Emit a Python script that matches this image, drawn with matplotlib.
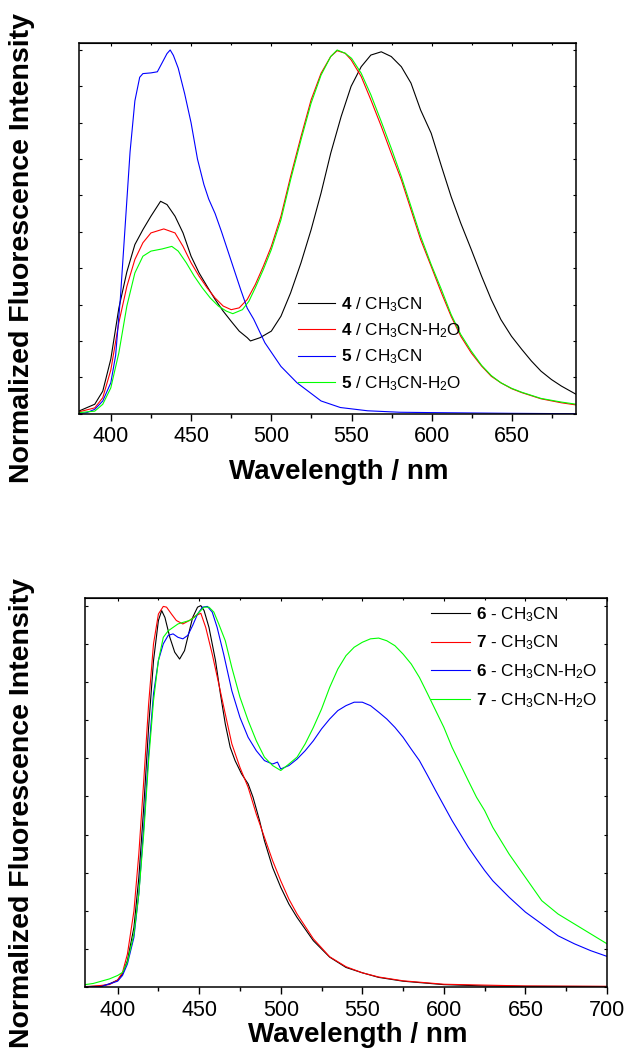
import numpy as np
import matplotlib
matplotlib.use("Agg")
import matplotlib.pyplot as plt
from matplotlib.ticker import MultipleLocator

plt.rcParams['font.family'] = ['Liberation Sans', 'DejaVu Sans']
plt.rcParams['mathtext.fontset'] = 'custom'
plt.rcParams['mathtext.rm'] = 'Liberation Sans'
plt.rcParams['mathtext.bf'] = 'Liberation Sans:bold'
plt.rcParams['mathtext.it'] = 'Liberation Sans:italic'

# ---- top panel: compounds 4 and 5 ----
wl_4a = [380, 390, 395, 400, 405, 410, 415, 420, 425, 431, 435, 440, 445, 450, 455, 460, 465, 470,
         475, 480, 485, 487, 493, 500, 506, 512, 518.5, 524.8, 531, 537, 543.5, 549.7, 556, 562,
         568.5, 574.7, 581, 587, 593, 599.6, 606, 612, 618, 624.6, 631, 637, 643, 649.6, 656,
         662, 668, 674.5, 680.7, 690]
in_4a = [0.007, 0.026, 0.062, 0.15, 0.29, 0.39, 0.465, 0.506, 0.543, 0.584, 0.575, 0.543, 0.497,
         0.433, 0.387, 0.35, 0.314, 0.282, 0.254, 0.227, 0.209, 0.2, 0.209, 0.227, 0.268, 0.332,
         0.415, 0.506, 0.607, 0.716, 0.817, 0.9, 0.954, 0.986, 0.995, 0.982, 0.954, 0.909,
         0.835, 0.771, 0.68, 0.597, 0.524, 0.451, 0.378, 0.314, 0.259, 0.213, 0.177, 0.145,
         0.117, 0.094, 0.076, 0.053]

wl_4b = [380, 390, 395, 400, 405, 410, 415, 420, 425, 433, 440, 445, 450, 455, 460, 465, 470, 475,
         480, 485, 490, 495, 500, 506, 512, 518.5, 524.8, 531, 537, 541, 546, 549.7, 556, 562,
         568.5, 574.7, 581, 587, 593, 599.6, 606, 612, 618, 624.6, 631, 637, 643, 649.6, 656,
         668, 680.7, 690]
in_4b = [0.005, 0.016, 0.044, 0.12, 0.25, 0.35, 0.424, 0.47, 0.497, 0.508, 0.497, 0.46, 0.415,
         0.378, 0.346, 0.318, 0.296, 0.286, 0.291, 0.314, 0.355, 0.405, 0.46, 0.543, 0.652,
         0.762, 0.863, 0.936, 0.982, 0.998, 0.991, 0.973, 0.927, 0.863, 0.79, 0.716, 0.643,
         0.561, 0.479, 0.405, 0.332, 0.268, 0.213, 0.167, 0.131, 0.103, 0.085, 0.069, 0.058,
         0.041, 0.03, 0.024]

wl_5a = [380, 385, 390, 395, 400, 403, 406, 409, 412, 415, 418, 420, 425, 429, 432, 435, 437, 439,
         442, 446, 450, 454, 458, 461, 465, 469, 475, 481, 485, 489, 496, 506, 516, 531, 543,
         560, 580, 600, 650, 690]
in_5a = [0.0, 0.003, 0.012, 0.035, 0.085, 0.16, 0.32, 0.52, 0.72, 0.86, 0.925, 0.935, 0.937, 0.94,
         0.965, 0.99, 1.0, 0.985, 0.95, 0.88, 0.8, 0.7, 0.63, 0.59, 0.55, 0.5, 0.42, 0.34, 0.29,
         0.26, 0.195, 0.13, 0.085, 0.035, 0.017, 0.008, 0.004, 0.003, 0.001, 0.0]

wl_5b = [380, 390, 395, 400, 405, 410, 415, 420, 425, 432, 438, 442, 447, 452, 457, 462, 467, 472,
         476, 482, 486, 490, 495, 500, 506, 512, 518.5, 524.8, 531, 537, 541, 546, 550, 556, 562,
         568.5, 574.7, 581, 587, 593, 599.6, 606, 612, 618, 624.6, 631, 637, 643, 649.6, 656,
         668, 680.7, 690]
in_5b = [0.003, 0.007, 0.026, 0.071, 0.167, 0.296, 0.387, 0.433, 0.447, 0.453, 0.46, 0.447, 0.415,
         0.378, 0.346, 0.318, 0.296, 0.282, 0.275, 0.286, 0.309, 0.346, 0.396, 0.451, 0.533,
         0.643, 0.753, 0.854, 0.931, 0.982, 1.0, 0.991, 0.977, 0.936, 0.877, 0.803, 0.73,
         0.652, 0.57, 0.488, 0.41, 0.341, 0.273, 0.218, 0.172, 0.133, 0.105, 0.085, 0.07,
         0.059, 0.042, 0.032, 0.026]

# ---- bottom panel: compounds 6 and 7 ----
wl_6a = [380, 390, 395, 400, 403, 406, 410, 413, 416, 419, 422, 425, 427, 429, 432, 435, 438, 441,
         443, 446, 449, 451, 453, 456, 460, 463, 466, 469, 472, 476, 480, 483, 487, 490, 495,
         500, 505, 510, 520, 530, 540, 550, 560, 575, 600, 625, 650, 700]
in_6a = [0.002, 0.003, 0.009, 0.019, 0.035, 0.07, 0.157, 0.288, 0.472, 0.681, 0.856, 0.961, 0.987,
         0.969, 0.917, 0.878, 0.86, 0.882, 0.917, 0.969, 0.996, 1.0, 0.987, 0.943, 0.856, 0.769,
         0.69, 0.629, 0.594, 0.559, 0.533, 0.498, 0.437, 0.384, 0.314, 0.262, 0.218, 0.183,
         0.122, 0.079, 0.052, 0.038, 0.026, 0.016, 0.007, 0.0035, 0.0026, 0.002]

wl_7a = [380, 395, 400, 403, 406, 410, 413, 416, 419, 422, 425, 428, 430, 433, 436, 440, 444, 448,
         451, 454, 458, 462, 466, 470, 475, 480, 485, 490, 495, 500, 505, 510, 520, 530, 540,
         550, 560, 575, 600, 650, 700]
in_7a = [0.001, 0.007, 0.019, 0.039, 0.087, 0.2, 0.35, 0.54, 0.742, 0.9, 0.978, 0.998, 0.996,
         0.978, 0.961, 0.952, 0.961, 0.974, 0.98, 0.943, 0.873, 0.795, 0.716, 0.638, 0.576,
         0.524, 0.454, 0.393, 0.332, 0.279, 0.231, 0.192, 0.127, 0.08, 0.054, 0.038, 0.027,
         0.017, 0.008, 0.0035, 0.0026]

wl_6b = [380, 390, 400, 403, 406, 410, 413, 416, 419, 422, 425, 428, 431, 434, 437, 440, 443, 446,
         449, 452, 455, 458, 461, 465, 470, 475, 480, 485, 490, 495, 498, 500, 505, 510, 515,
         520, 525, 530, 535, 540, 545, 550, 555, 560, 565, 570, 575, 580, 585, 590, 595, 600,
         605, 610, 615, 620, 625, 630, 640, 650, 660, 670, 680, 690, 700]
in_6b = [0.0, 0.002, 0.016, 0.031, 0.061, 0.131, 0.245, 0.419, 0.611, 0.769, 0.856, 0.9, 0.922,
         0.926, 0.917, 0.913, 0.922, 0.948, 0.978, 0.996, 0.998, 0.983, 0.943, 0.873, 0.777,
         0.707, 0.655, 0.62, 0.594, 0.585, 0.59, 0.572, 0.581, 0.598, 0.62, 0.646, 0.677,
         0.703, 0.725, 0.738, 0.747, 0.747, 0.738, 0.721, 0.703, 0.681, 0.655, 0.624, 0.594,
         0.555, 0.515, 0.476, 0.437, 0.402, 0.367, 0.336, 0.306, 0.279, 0.236, 0.197, 0.166,
         0.135, 0.114, 0.096, 0.081]

wl_7b = [380, 385, 390, 395, 400, 403, 406, 410, 413, 416, 419, 422, 425, 428, 431, 434, 437, 440,
         444, 447, 450, 453, 456, 459, 462, 466, 470, 475, 480, 485, 490, 495, 500, 505, 510,
         515, 520, 525, 530, 535, 540, 545, 550, 555, 560, 565, 570, 575, 580, 585, 590, 595,
         600, 605, 610, 615, 620, 625, 630, 640, 650, 660, 670, 680, 690, 700]
in_7b = [0.007, 0.01, 0.016, 0.022, 0.031, 0.039, 0.066, 0.14, 0.245, 0.402, 0.594, 0.751, 0.856,
         0.917, 0.934, 0.943, 0.952, 0.956, 0.961, 0.969, 0.983, 0.996, 0.996, 0.983, 0.952,
         0.908, 0.838, 0.76, 0.699, 0.646, 0.603, 0.581, 0.568, 0.585, 0.603, 0.638, 0.681,
         0.729, 0.786, 0.834, 0.869, 0.891, 0.904, 0.913, 0.915, 0.908, 0.895, 0.873, 0.847,
         0.812, 0.769, 0.725, 0.681, 0.629, 0.585, 0.541, 0.498, 0.463, 0.419, 0.349, 0.288,
         0.227, 0.192, 0.166, 0.14, 0.114]

top_labels = [r'$\mathbf{4}$ / CH$_3$CN', r'$\mathbf{4}$ / CH$_3$CN-H$_2$O',
              r'$\mathbf{5}$ / CH$_3$CN', r'$\mathbf{5}$ / CH$_3$CN-H$_2$O']
bot_labels = [r'$\mathbf{6}$ - CH$_3$CN', r'$\mathbf{7}$ - CH$_3$CN',
              r'$\mathbf{6}$ - CH$_3$CN-H$_2$O', r'$\mathbf{7}$ - CH$_3$CN-H$_2$O']
colors = ['#000000', '#ff0000', '#0000ff', '#00ff00']

W, H = 629, 1053
fig = plt.figure(figsize=(W / 100, H / 100), dpi=100)


def setup(ax, xmax):
    ax.set_xlim(380, xmax)
    ax.set_ylim(0, 1.02)
    ax.xaxis.set_major_locator(MultipleLocator(50))
    ax.xaxis.set_minor_locator(MultipleLocator(25))
    ax.yaxis.set_major_locator(MultipleLocator(0.1))
    ax.tick_params(axis='x', which='major', direction='out', length=5, width=1,
                   labelsize=15.5, pad=4)
    ax.tick_params(axis='x', which='minor', direction='out', length=3, width=1)
    ax.tick_params(axis='y', which='major', direction='in', length=2, width=0.8,
                   left=True, right=True, labelleft=False)
    for s in ax.spines.values():
        s.set_linewidth(1.1)
    top = ax.secondary_xaxis('top')
    top.xaxis.set_major_locator(MultipleLocator(50))
    top.xaxis.set_minor_locator(MultipleLocator(25))
    top.tick_params(which='major', direction='in', length=2, width=0.8, labeltop=False)
    top.tick_params(which='minor', direction='in', length=1.5, width=0.8)


# top panel
ax1 = fig.add_axes([78.7 / W, 1 - 413.7 / H, 497.6 / W, 371 / H])
for wl, iv, c, lab in zip([wl_4a, wl_4b, wl_5a, wl_5b], [in_4a, in_4b, in_5a, in_5b],
                          colors, top_labels):
    ax1.plot(wl, iv, color=c, lw=0.8, label=lab)
setup(ax1, 690)
ax1.legend(loc='upper left', bbox_to_anchor=(0.44, 0.32), frameon=False, fontsize=12.3,
           handlelength=2.2, handletextpad=0.35, labelspacing=0.45, borderpad=0,
           borderaxespad=0)

# bottom panel
ax2 = fig.add_axes([85 / W, 1 - 987.3 / H, 522 / W, 389.3 / H])
for wl, iv, c, lab in zip([wl_6a, wl_7a, wl_6b, wl_7b], [in_6a, in_7a, in_6b, in_7b],
                          colors, bot_labels):
    ax2.plot(wl, iv, color=c, lw=0.8, label=lab)
setup(ax2, 700)
ax2.legend(loc='upper left', bbox_to_anchor=(0.663, 0.982), frameon=False, fontsize=12.3,
           handlelength=2.3, handletextpad=0.35, labelspacing=0.58, borderpad=0,
           borderaxespad=0)

# axis titles
fig.text(338.5 / W, 1 - 472 / H, 'Wavelength / nm', ha='center', va='center',
         fontsize=20, fontweight='bold')
fig.text(357.5 / W, 1 - 1035 / H, 'Wavelength / nm', ha='center', va='center',
         fontsize=20, fontweight='bold')
fig.text(22 / W, 1 - 248 / H, 'Normalized Fluorescence Intensity', ha='center', va='center',
         rotation=90, fontsize=20.5, fontweight='bold')
fig.text(22 / W, 1 - 813 / H, 'Normalized Fluorescence Intensity', ha='center', va='center',
         rotation=90, fontsize=20.5, fontweight='bold')

fig.savefig('out.png', dpi=100)
